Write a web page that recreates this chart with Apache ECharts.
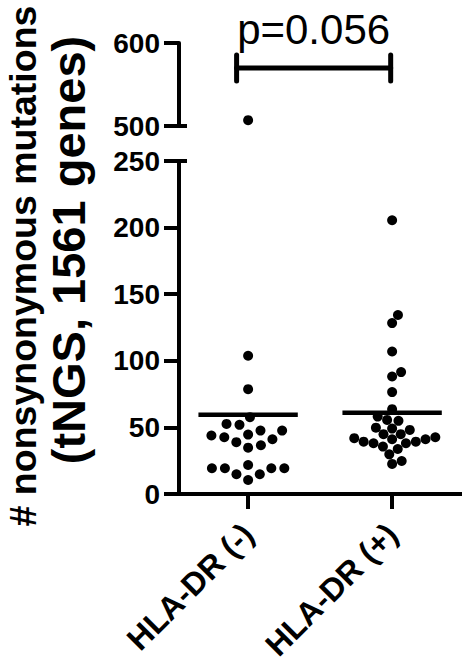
<!DOCTYPE html>
<html><head><meta charset="utf-8">
<script src="https://cdn.jsdelivr.net/npm/echarts@6/dist/echarts.min.js"></script>
<style>html,body{margin:0;padding:0;background:#fff}#c{width:462px;height:667px}</style>
</head><body><div id="c"></div>
<script>
// ---- data ----
const categories = ['HLA-DR (-)', 'HLA-DR (+)'];
const drNegative = [507, 103.8, 78.7, 57.7, 52.6, 51.9, 47.6, 47.6, 44.6, 43.9, 42.6, 41.1, 38.9, 36.6, 34.8, 21.8, 19.3, 19.3, 19.3, 19.3, 14.8, 14.8, 10.5];
const drPositive = [205.5, 134.4, 128.3, 107, 91.5, 88.2, 76.5, 63.7, 58.1, 55.6, 54.9, 49.8, 49.1, 48.1, 44.9, 44.9, 42.6, 41.9, 41.1, 41.1, 39.3, 39.3, 38.1, 38.1, 35.6, 33.8, 29.8, 24.8, 22.6];
const lowerTicks = [0, 50, 100, 150, 200, 250];
const upperTicks = [500, 600];
const pValueText = 'p=0.056';
const pBracket = [0.92, 1.99];
const pBracketLevel = 570;
const yTitle = ['# nonsynonymous mutations', '(tNGS, 1561 genes)'];

// ---- derived ----
const groups = [drNegative, drPositive];
const lowerMax = lowerTicks[lowerTicks.length - 1];
const upperMin = upperTicks[0], upperMax = upperTicks[upperTicks.length - 1];
const mean = a => a.reduce((s, v) => s + v, 0) / a.length;
const means = groups.map(mean);

const FONT = '"Liberation Sans", Arial, Helvetica, sans-serif';
const X_MIN = 0.52, X_MAX = 2.49;
const DOT_R = 5;

function swarm(ys, D, maxHalf) {
  let d = D;
  while (true) {
    const order = ys.map((y, i) => i).sort((a, b) => ys[b] - ys[a]);
    const placed = [];
    const off = new Array(ys.length).fill(0);
    for (const i of order) {
      const y = ys[i];
      const iv = [];
      for (const p of placed) {
        const dy = Math.abs(p.y - y);
        if (dy < d) { const w = Math.sqrt(d * d - dy * dy); iv.push([p.x - w, p.x + w]); }
      }
      const cands = [0];
      iv.forEach(v => cands.push(v[0], v[1]));
      cands.sort((a, b) => Math.abs(a) - Math.abs(b) || b - a);
      let best = 0;
      for (const c of cands) {
        if (iv.every(v => c <= v[0] + 1e-6 || c >= v[1] - 1e-6)) { best = c; break; }
      }
      off[i] = best;
      placed.push({ x: best, y: y });
    }
    const m = Math.max(...off.map(Math.abs));
    if (m <= maxHalf || d <= 6) return off;
    d -= 0.25;
  }
}

function dotSeries(gridIdx, inRange) {
  const data = [];
  groups.forEach((arr, g) => arr.forEach(v => { if (inRange(v)) data.push([g + 1, v]); }));
  let cache = null;
  return {
    type: 'custom', xAxisIndex: gridIdx, yAxisIndex: gridIdx, z: 3,
    data: data,
    renderItem: function (params, api) {
      const key = api.coord([1, 0]).join(',') + '|' + api.coord([2, 1]).join(',');
      if (!cache || cache.key !== key) {
        const offs = new Array(data.length).fill(0);
        [1, 2].forEach(g => {
          const idx = [];
          data.forEach((d, i) => { if (d[0] === g) idx.push(i); });
          const ys = idx.map(i => api.coord(data[i])[1]);
          const o = swarm(ys, 13.5, 45);
          idx.forEach((i, k) => { offs[i] = o[k]; });
        });
        cache = { key: key, offs: offs };
      }
      const p = api.coord([api.value(0), api.value(1)]);
      return {
        type: 'circle',
        shape: { cx: p[0] + cache.offs[params.dataIndex], cy: p[1], r: DOT_R },
        style: { fill: '#000' }
      };
    }
  };
}

// small horizontal caps marking the axis break
function breakCap(gridIdx, value) {
  return {
    type: 'custom', xAxisIndex: gridIdx, yAxisIndex: gridIdx, z: 5, clip: false, silent: true,
    data: [[X_MIN, value]],
    renderItem: function (params, api) {
      const p = api.coord([api.value(0), api.value(1)]);
      return { type: 'line', shape: { x1: p[0] - 14, y1: p[1], x2: p[0] + 8, y2: p[1] },
        style: { stroke: '#000', lineWidth: 4 } };
    }
  };
}

const option = {
  animation: false,
  backgroundColor: '#fff',
  grid: [
    { left: 179, top: 43, width: (X_MAX - X_MIN) * 144, height: 83, containLabel: false, outerBoundsMode: 'none' },
    { left: 179, top: 161, width: (X_MAX - X_MIN) * 144, height: 333, containLabel: false, outerBoundsMode: 'none' }
  ],
  xAxis: [
    { type: 'value', gridIndex: 0, min: X_MIN, max: X_MAX, show: false },
    {
      type: 'value', gridIndex: 1, min: X_MIN, max: X_MAX,
      axisLine: { show: true, onZero: false, lineStyle: { color: '#000', width: 4 } },
      axisTick: { show: true, customValues: [1, 2], length: 15, lineStyle: { color: '#000', width: 4 } },
      axisLabel: {
        show: true, customValues: [1, 2], rotate: 45, margin: 35,
        formatter: v => categories[Math.round(v) - 1] || '',
        color: '#000', fontFamily: FONT, fontWeight: 'bold', fontSize: 32
      },
      splitLine: { show: false }
    }
  ],
  yAxis: [
    {
      type: 'value', gridIndex: 0, min: upperMin, max: upperMax, interval: upperMax - upperMin,
      axisLine: { show: true, lineStyle: { color: '#000', width: 4 } },
      axisTick: { show: true, length: 15, lineStyle: { color: '#000', width: 4 } },
      axisLabel: { margin: 19, color: '#000', fontFamily: FONT, fontWeight: 'bold', fontSize: 28 },
      splitLine: { show: false }
    },
    {
      type: 'value', gridIndex: 1, min: 0, max: lowerMax, interval: lowerTicks[1] - lowerTicks[0],
      axisLine: { show: true, lineStyle: { color: '#000', width: 4 } },
      axisTick: { show: true, length: 15, lineStyle: { color: '#000', width: 4 } },
      axisLabel: { margin: 19, color: '#000', fontFamily: FONT, fontWeight: 'bold', fontSize: 28 },
      splitLine: { show: false }
    }
  ],
  graphic: [
    { type: 'text', x: 23, y: 266, rotation: Math.PI / 2,
      style: { text: yTitle[0], fill: '#000', font: 'bold 37.5px ' + FONT, textAlign: 'center', textVerticalAlign: 'middle', align: 'center', verticalAlign: 'middle' } },
    { type: 'text', x: 68, y: 250, rotation: Math.PI / 2,
      style: { text: yTitle[1], fill: '#000', font: 'bold 47px ' + FONT, textAlign: 'center', textVerticalAlign: 'middle', align: 'center', verticalAlign: 'middle' } }
  ],
  series: [
    dotSeries(0, v => v >= upperMin),
    dotSeries(1, v => v <= lowerMax),
    {
      type: 'custom', xAxisIndex: 1, yAxisIndex: 1, z: 4,
      data: means.map((m, g) => [g + 1, m]),
      renderItem: function (params, api) {
        const g = api.value(0), m = api.value(1);
        const a = api.coord([g - 0.345, m]), b = api.coord([g + 0.345, m]);
        return { type: 'line', shape: { x1: a[0], y1: a[1], x2: b[0], y2: b[1] },
          style: { stroke: '#000', lineWidth: 4.5 } };
      }
    },
    {
      type: 'custom', xAxisIndex: 0, yAxisIndex: 0, z: 4, clip: false,
      data: [[pBracket[0], pBracket[1], pBracketLevel]],
      renderItem: function (params, api) {
        const x1 = api.value(0), x2 = api.value(1), lv = api.value(2);
        const a = api.coord([x1, lv]), b = api.coord([x2, lv]);
        const cap = 13;
        const st = { stroke: '#000', lineWidth: 5, lineCap: 'round' };
        return { type: 'group', children: [
          { type: 'line', shape: { x1: a[0], y1: a[1], x2: b[0], y2: b[1] }, style: st },
          { type: 'line', shape: { x1: a[0], y1: a[1] - cap, x2: a[0], y2: a[1] + cap }, style: st },
          { type: 'line', shape: { x1: b[0], y1: b[1] - cap, x2: b[0], y2: b[1] + cap }, style: st },
          { type: 'text', style: { text: pValueText, x: (a[0] + b[0]) / 2, y: a[1] - 38, fill: '#000',
              font: '42px ' + FONT, align: 'center', verticalAlign: 'middle', textAlign: 'center', textVerticalAlign: 'middle' } }
        ] };
      }
    },
    breakCap(0, upperMin),
    breakCap(1, lowerMax)
  ]
};

const chart = echarts.init(document.getElementById('c'), null, { renderer: 'svg' });
chart.setOption(option);
</script>
</body></html>
